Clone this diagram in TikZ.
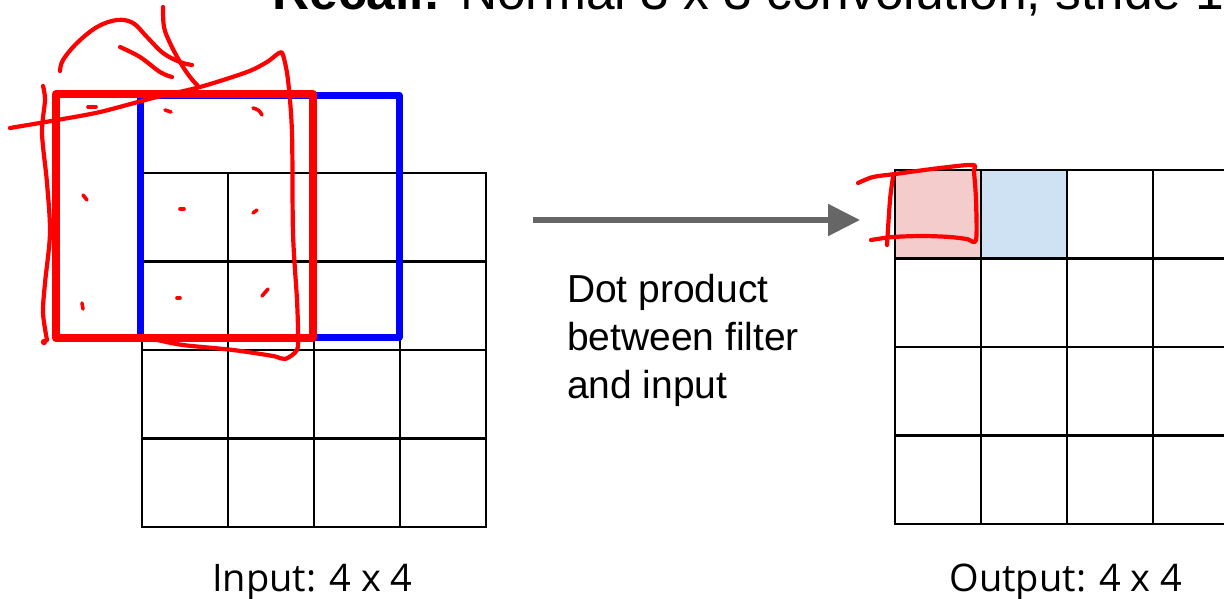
\documentclass[tikz,border=0pt]{standalone}
\usepackage{fontspec}
\setmainfont{Liberation Sans}
\newfontfamily\labfont{Open Sans}
\usetikzlibrary{arrows.meta,backgrounds}
\definecolor{pinkc}{RGB}{244,204,204}
\definecolor{bluec}{RGB}{207,226,243}
\definecolor{arrowgray}{RGB}{102,102,102}
\tikzset{
  cell/.style={draw=black,line width=2.4pt,minimum width=86pt,minimum height=88.5pt,inner sep=0pt,outer sep=0pt,anchor=north west},
  hand/.style={draw=red,line width=4.2pt,line cap=round,line join=round},
  dotmark/.style={draw=red,line width=3.6pt,line cap=round},
  bluebox/.style={draw=blue,line width=7pt,line join=round},
  redbox/.style={draw=red,line width=8pt,line join=round},
  flowarrow/.style={draw=arrowgray,line width=5.5pt,-{Triangle[length=32pt,width=31pt]}},
  bodytext/.style={font=\fontsize{39}{48}\selectfont,inner sep=0pt,outer sep=0pt},
  labtext/.style={font=\labfont\fontsize{38}{46}\selectfont,inner sep=0pt,outer sep=0pt,anchor=base}
}
\begin{document}
\begin{tikzpicture}[x=1pt,y=-1pt]
\useasboundingbox (0,0) rectangle (1224,598);
\clip (0,0) rectangle (1224,598);

% title
\node[anchor=base west,font=\fontsize{51.5}{60}\selectfont,inner sep=0pt] (title) at (272,9) {\textbf{Recall:} Normal 3 x 3 convolution, stride 1};

% input grid
\foreach \r in {0,...,3}
  \foreach \c in {0,...,3}
    \node[cell] (in-\r-\c) at ({142+86*\c},{173+88.5*\r}) {};

% output grid
\foreach \r in {0,...,3}
  \foreach \c in {0,...,3}
    \node[cell] (out-\r-\c) at ({895+86*\c},{170+88.5*\r}) {};
\begin{scope}[on background layer]
  \fill[pinkc] (out-0-0.north west) rectangle (out-0-0.south east);
  \fill[bluec] (out-0-1.north west) rectangle (out-0-1.south east);
\end{scope}

% filter windows
\draw[bluebox] (140,95) rectangle (399,337);
\draw[redbox] (56,94) rectangle (313,338);

% arrow
\coordinate (arrS) at (533,220);
\coordinate (arrE) at (860,220);
\draw[flowarrow] (arrS) -- (arrE);

% texts
\node[bodytext,anchor=base west,align=left] (dot) at (567,398) {Dot product\\between filter\\and input};
\node[labtext] (inlab) at (312.5,591) {Input: 4 x 4};
\node[labtext] (outlab) at (1066,591) {Output: 4 x 4};

% handwritten strokes (input)
\draw[hand] plot[smooth,tension=0.6] coordinates {(60,71) (63,60) (77,43) (97,27) (117,20) (133,23) (147,37) (163,53) (180,62) (192,65)};
\draw[hand] plot[smooth,tension=0.6] coordinates {(120,47) (140,57) (160,72) (172,77)};
\draw[hand] plot[smooth,tension=0.6] coordinates {(163,7) (164,27) (170,43) (180,62) (190,77) (199,87)};
\draw[hand] plot[smooth,tension=0.5] coordinates {(10,128) (57,120) (100,112) (153,98) (200,87) (247,72) (267,62) (279,53) (283,55) (288,80) (292,133) (293,233) (297,300) (298,333) (297,350) (285,359) (273,356) (233,350) (183,345) (157,340) (140,337)};
\draw[hand] plot[smooth,tension=0.5] coordinates {(43,86) (45,100) (42,133) (47,183) (50,233) (45,283) (43,313) (47,340)};
\fill[red] (44,342) circle (3.2pt);
\draw[dotmark] (88,107) -- (96,107);
\draw[dotmark] (165,110) -- (171,112);
\draw[dotmark] (253,108) .. controls (259,110) .. (262,115);
\draw[dotmark] (83,195) -- (87,200);
\draw[dotmark] (180,209) -- (184,209);
\draw[dotmark] (253,213) -- (257,210);
\draw[dotmark] (82,303) -- (83,309);
\draw[dotmark] (177,298) -- (180,298);
\draw[dotmark] (262,296) -- (268,289);

% handwritten strokes (output)
\draw[hand] plot[smooth,tension=0.5] coordinates {(858,183) (873,177) (895,174) (940,168) (973,165) (974,172) (976,200) (976,240) (967,239) (950,237) (923,236) (893,237) (871,240)};
\draw[hand] plot[smooth,tension=0.5] coordinates {(893,177) (890,200) (887,245)};
\end{tikzpicture}
\end{document}
